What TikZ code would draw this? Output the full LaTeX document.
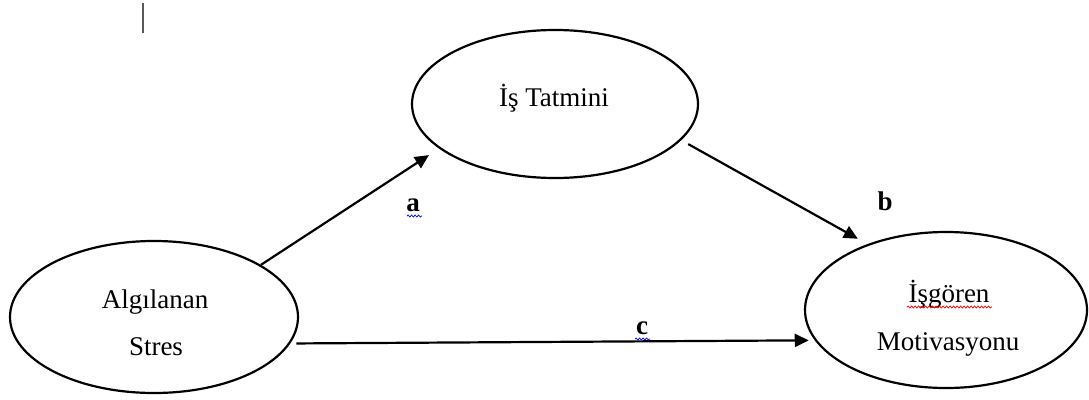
\documentclass[tikz,border=0pt]{standalone}
\usepackage{fontspec}
\setmainfont{Liberation Serif}
\usetikzlibrary{arrows.meta,decorations.pathmorphing,shapes.geometric}
\begin{document}
\begin{tikzpicture}[x=1pt,y=-1pt,
  oval/.style={draw=black,line width=2.2pt,ellipse,inner sep=0pt},
  lbl/.style={anchor=base,inner sep=0pt,font=\fontsize{27}{30}\selectfont},
  blbl/.style={anchor=base,inner sep=0pt,font=\fontsize{27}{30}\selectfont\bfseries},
  conn/.style={line width=2.2pt,-{Triangle[length=14pt,width=13pt]}},
  wavy/.style={line width=0.7pt,decorate,decoration={snake,segment length=3.5pt,amplitude=1pt}}]
\useasboundingbox (0,0) rectangle (1089,399);
% cursor
\draw[gray!70!black,line width=1.3pt] (143,3) -- (143,33);
% ellipses
\node[oval,minimum width=286pt,minimum height=148pt] (T) at (555,104) {};
\node[oval,minimum width=288pt,minimum height=152pt] (L) at (154,317) {};
\node[oval,minimum width=282pt,minimum height=156pt] (R) at (946,310) {};
% texts
\node[lbl] (t1) at (554,106) {İş Tatmini};
\node[lbl] (l1) at (155,308) {Algılanan};
\node[lbl] (l2) at (156,355) {Stres};
\node[lbl] (r1) at (949,302) {İşgören};
\node[lbl] (r2) at (948,350) {Motivasyonu};
% connectors
\draw[conn,shorten >=12pt] (L.26) -- (T.201);
\draw[conn,shorten <=8pt,shorten >=11pt] (T.-16) -- (R.140);
\draw[conn,shorten <=6pt,shorten >=6pt] (L.-11) -- (R.193);
% labels
\node[blbl] (la) at (413,211) {a};
\node[blbl] (lb) at (885,210) {b};
\node[blbl] (lc) at (642,334) {c};
% spell-check underlines
\draw[wavy,blue] (407,216) -- (422,216);
\draw[wavy,blue] (635,339) -- (650,339);
\draw[wavy,red] (907,307) -- (992,307);
\end{tikzpicture}
\end{document}
